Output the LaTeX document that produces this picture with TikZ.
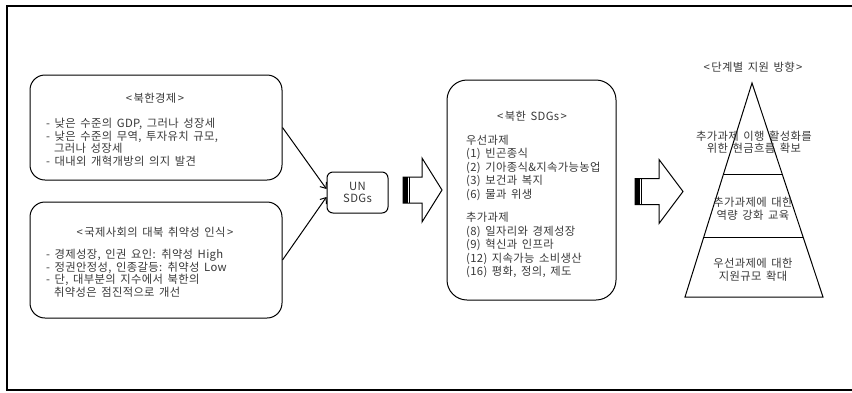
\documentclass[tikz,border=0pt]{standalone}
\usepackage{fontspec}
\setmainfont[WordSpace=1.6,LetterSpace=3]{Noto Sans CJK KR}
\usetikzlibrary{arrows.meta,calc}
\definecolor{txtgray}{gray}{0.22}
\newcommand{\brk}[1]{<\hspace{1.5pt}#1\hspace{1.5pt}>}
\tikzset{
  panel/.style={draw, line width=1pt, rounded corners=15pt, inner sep=0pt},
  headtext/.style={inner sep=0pt, text=txtgray, font=\fontsize{11.3}{12.5}\selectfont},
  bodytext/.style={align=left, anchor=north west, inner sep=0pt, text=txtgray,
    font=\fontsize{11.3}{12.5}\selectfont},
  link/.style={-{Straight Barb[length=5pt,width=8pt]}, line width=1pt},
}

\begin{document}
\begin{tikzpicture}[x=1pt,y=-1pt]
  \useasboundingbox (0,0) rectangle (852,392);
  % frame, open on the right side
  \draw[line width=1.5pt] (852,6) -- (7,6) -- (7,390) -- (852,390);

  % two boxes on the left
  \node[panel, minimum width=252pt, minimum height=105pt] (econ) at (156,127.5) {};
  \node[headtext] (econtitle) at (155,98) {\brk{북한경제}};
  \node[bodytext] (econbody) at (46,118) {- 낮은 수준의 GDP, 그러나 성장세\\- 낮은 수준의 무역, 투자유치 규모,\\\hspace*{0.7em}그러나 성장세\\- 대내외 개혁개방의 의지 발견};

  \node[panel, minimum width=252pt, minimum height=116pt] (vuln) at (156,260) {};
  \node[headtext] (vulntitle) at (155,232) {\brk{국제사회의 대북 취약성 인식}};
  \node[bodytext] (vulnbody) at (46,249) {- 경제성장, 인권 요인: 취약성 High\\- 정권안정성, 인종갈등: 취약성 Low\\- 단, 대부분의 지수에서 북한의\\\hspace*{0.7em}취약성은 점진적으로 개선};

  \node[panel, rounded corners=6pt, minimum width=61pt, minimum height=41pt,
    headtext, align=center] (un) at (357.5,192.5) {UN\\SDGs};

  \draw[link] (econ.east) -- ([yshift=3.5pt]un.west);
  \draw[link] (vuln.east) -- ([yshift=-4.5pt]un.west);

  % block arrows
  \foreach \xa/\xb/\xc/\yc in {403/422/442/190, 635/659/683/191.5} {
    \draw[line width=1pt, fill=white] (\xa,\yc-13) -- (\xb,\yc-13) -- (\xb,\yc-32)
      -- (\xc,\yc) -- (\xb,\yc+32) -- (\xb,\yc+13) -- (\xa,\yc+13) -- cycle;
    \fill (\xa,\yc-13) rectangle (\xa+4.5,\yc+13);
    \draw[line width=0.8pt] (\xa+6.5,\yc-13) -- (\xa+6.5,\yc+13);
  }

  % SDGs box
  \node[panel, rounded corners=20pt, minimum width=169pt, minimum height=220pt] (sdgs) at (531.5,190) {};
  \node[headtext] (sdgstitle) at (532,116) {\brk{북한 SDGs}};
  \node[bodytext, font=\fontsize{11.3}{13.5}\selectfont] (sdgsbody) at (466,134.5) {우선과제\\(1) 빈곤종식\\(2) 기아종식\&지속가능농업\\(3) 보건과 복지\\(6) 물과 위생\\[10pt]추가과제\\(8) 일자리와 경제성장\\(9) 혁신과 인프라\\(12) 지속가능 소비생산\\(16) 평화, 정의, 제도};

  % pyramid
  \coordinate (apex) at (752,83);
  \coordinate (baseL) at (685,297);
  \coordinate (baseR) at (823,297);
  \draw[line width=1pt] (apex) -- (baseR) -- (baseL) -- cycle;
  \draw[line width=1pt] ($(apex)!0.428!(baseL)$) -- ($(apex)!0.428!(baseR)$);
  \draw[line width=1pt] ($(apex)!0.724!(baseL)$) -- ($(apex)!0.724!(baseR)$);
  \node[headtext] (pyrtitle) at (753,67) {\brk{단계별 지원 방향}};
  \node[headtext, align=center] (stepcash) at (754,142) {추가과제 이행 활성화를\\위한 현금흐름 확보};
  \node[headtext, align=center] (stepedu) at (753,209) {추가과제에 대한\\역량 강화 교육};
  \node[headtext, align=center] (stepscale) at (753,270) {우선과제에 대한\\지원규모 확대};
\end{tikzpicture}
\end{document}
